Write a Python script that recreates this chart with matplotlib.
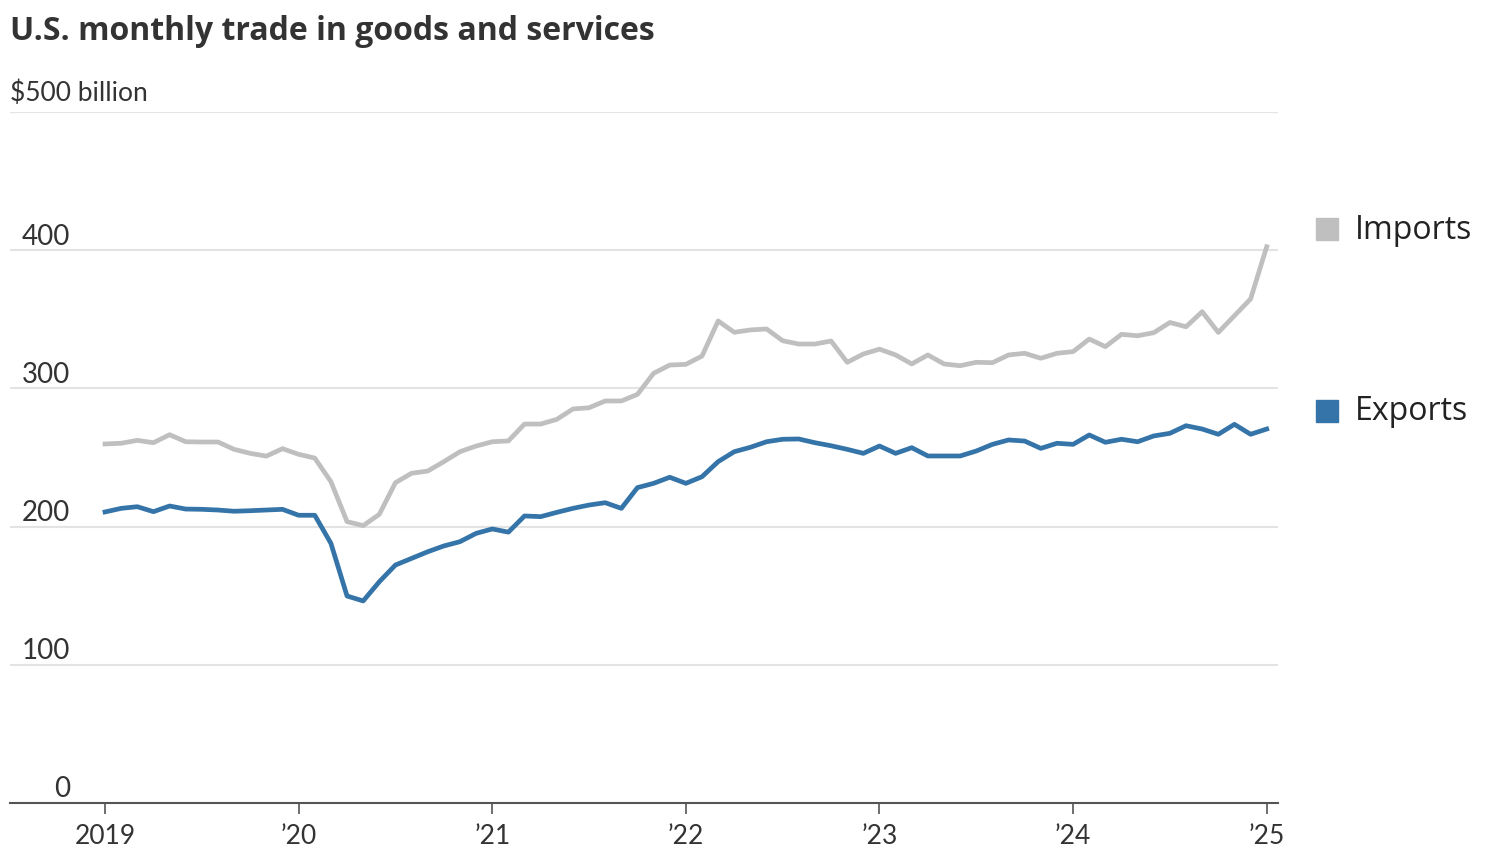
import numpy as np
import matplotlib.pyplot as plt
from matplotlib.transforms import blended_transform_factory

# monthly values, Jan 2019 .. Jan 2025, $ billion
imports = [259.8, 260.3, 262.4, 260.7, 266.5, 261.4, 261.2, 261.2, 255.9, 253.0, 251.0, 256.4,
           252.3, 249.6, 232.5, 203.6, 200.7, 208.9, 231.8, 238.6, 240.2, 247.0, 254.2, 258.3,
           261.4, 262.0, 274.2, 274.2, 277.6, 285.1, 286.0, 290.9, 290.9, 295.7, 310.9, 316.9,
           317.4, 323.4, 348.8, 340.6, 342.3, 343.0, 334.5, 332.1, 332.1, 334.3, 318.9, 324.9,
           328.4, 324.2, 317.7, 324.2, 317.7, 316.4, 318.9, 318.6, 324.2, 325.4, 321.8, 325.4,
           326.6, 335.7, 330.2, 339.1, 338.1, 340.3, 347.7, 344.6, 355.5, 340.5, 352.6, 364.7,
           402.5]
exports = [210.6, 213.2, 214.4, 210.8, 214.9, 212.7, 212.5, 212.0, 211.1, 211.5, 212.0, 212.5,
           208.2, 208.2, 187.9, 149.8, 146.2, 160.1, 172.2, 177.0, 181.8, 186.0, 189.1, 195.1,
           198.3, 196.0, 207.7, 207.2, 210.3, 213.2, 215.6, 217.3, 213.2, 228.2, 231.3, 235.7,
           231.3, 236.1, 247.0, 254.2, 257.4, 261.4, 263.2, 263.4, 260.7, 258.5, 255.9, 253.0,
           258.3, 253.0, 257.1, 251.1, 251.1, 251.1, 254.7, 259.5, 262.7, 261.9, 256.6, 260.3,
           259.5, 266.3, 261.0, 263.2, 261.4, 265.6, 267.5, 273.0, 270.6, 266.8, 274.0, 266.8,
           270.6]
year_ticks = [0, 12, 24, 36, 48, 60, 72]
year_labels = ["2019", "\u201920", "\u201921", "\u201922", "\u201923", "\u201924", "\u201925"]
y_ticks = [0, 100, 200, 300, 400, 500]
y_labels = ["0", "100", "200", "300", "400", "$500 billion"]

gray = "#bfbfbf"
blue = "#3474a8"
narrow = ["Liberation Sans Narrow", "Lato", "DejaVu Sans"]

x = np.arange(len(imports))

fig = plt.figure(figsize=(15, 8.5), dpi=100)
ax = fig.add_axes([10 / 1500, 1 - 803 / 850, 1268 / 1500, (803 - 112) / 850])

ax.plot(x, imports, color=gray, linewidth=3.4, solid_joinstyle="round")
ax.plot(x, exports, color=blue, linewidth=3.4, solid_joinstyle="round")

ax.set_xlim(-5.89, 72.7)
ax.set_ylim(0, 500)
for v in y_ticks[1:]:
    ax.axhline(v, color="#e3e3e3", linewidth=1.5, zorder=0)

for s in ["top", "right", "left"]:
    ax.spines[s].set_visible(False)
ax.spines["bottom"].set_color("#555555")
ax.spines["bottom"].set_linewidth(1.5)

ax.set_yticks([])
ax.set_xticks(year_ticks)
ax.set_xticklabels(year_labels, fontsize=19, family=narrow, color="#333333")
ax.tick_params(axis="x", length=8, width=1.2, color="#555555", pad=7)

tr = blended_transform_factory(ax.transAxes, ax.transData)
for v, lab in zip(y_ticks, y_labels):
    if v == 500:
        ax.text(0, v + 8, lab, transform=tr, ha="left", va="baseline",
                fontsize=19, family=narrow, color="#333333")
    else:
        ax.text(0.0473, v + 4, lab, transform=tr, ha="right", va="baseline",
                fontsize=20, family=narrow, color="#333333")

# legend labels on the right
for lab, col, yv in [("Imports", gray, 415), ("Exports", blue, 284)]:
    ax.plot([1.0387], [yv], marker="s", markersize=16, color=col, transform=tr, clip_on=False)
    ax.text(1.061, yv - 1, lab, transform=tr, ha="left", va="center",
            fontsize=23, family=["Open Sans", "DejaVu Sans"], color="#222222")

fig.text(10 / 1500, 1 - 31 / 850, "U.S. monthly trade in goods and services",
         fontsize=23, fontweight="bold", family=["Open Sans", "DejaVu Sans"], color="#333333",
         ha="left", va="center")

fig.savefig("out.png", dpi=100)
